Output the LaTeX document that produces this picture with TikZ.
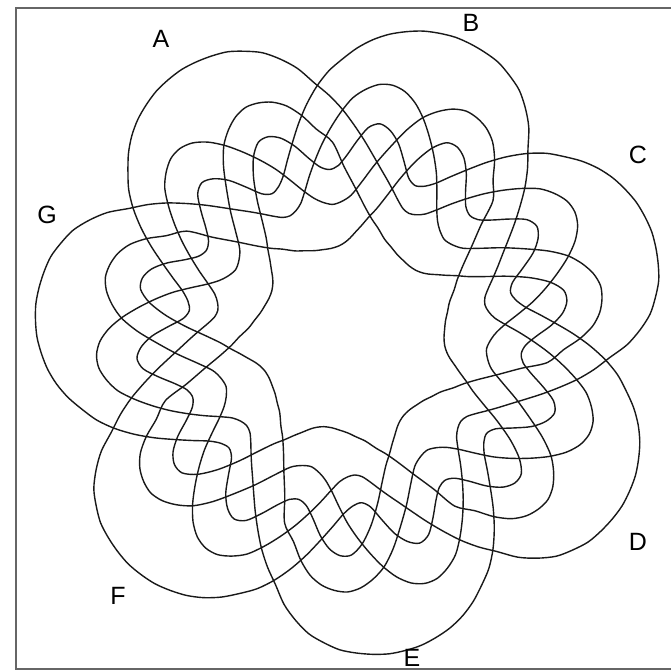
\documentclass[tikz,border=0pt]{standalone}
\usepackage{fontspec}
\setmainfont{Liberation Sans}
\begin{document}
\begin{tikzpicture}[x=1pt,y=1pt]
\useasboundingbox (0,0) rectangle (670,-671);
\tikzset{
  setcurve/.style={line width=1.4pt, black!90, line join=round},
  setlabel/.style={font=\fontsize{25}{25}\selectfont, text=black, inner sep=0pt},
  frameline/.style={line width=1.8pt, black!60}
}
\draw[frameline] (674,-8) -- (16,-8) -- (16,-669) -- (674,-669);
\foreach \p in {70,121.4286,172.8571,224.2857,275.7143,327.1429,378.5714} {
  \begin{scope}[shift={(352,-338)}, rotate=\p]
    \draw[setcurve] plot[smooth cycle, tension=0.5] coordinates {
(-180:197) (-176:212) (-173:228) (-170:241) (-167:249) (-164:253) (-161:254) (-158:250) (-155:242) (-152:231) (-149:215) (-146:197) (-142:176) (-138:157) (-134:143) (-130:137) (-126:135) (-122:139) (-119:145) (-116:155) (-113:169) (-110:185) (-107:200) (-104:215) (-101:230) (-98:243) (-95:252) (-92:256) (-89:255) (-86:249) (-83:240) (-80:226) (-77:211) (-74:196) (-71:181) (-68:167) (-65:154) (-62:144) (-59:139) (-56:137) (-53:139) (-50:145) (-47:153) (-44:162) (-41:172) (-38:184) (-35:198) (-32:213) (-29:229) (-26:244) (-23:258) (-20:275) (-17:288) (-14:299) (-11:306) (-8:312) (-5:315) (-2:317) (1:318) (4:317) (7:315) (10:311) (13:306) (16:299) (19:290) (22:279) (25:268) (28:254) (31:238) (34:221) (37:204) (40:189) (43:176) (46:168) (49:165) (52:170) (55:184) (58:200) (61:211) (64:216) (67:211) (70:197) (73:183) (76:173) (79:170) (82:174) (85:185) (88:200) (91:212) (94:218) (97:217) (100:206) (103:188) (106:167) (109:147) (112:132) (115:122) (118:113) (121:106) (124:100) (127:96) (131:93) (136:92) (141:93) (146:95) (151:99) (156:104) (161:113) (165:121) (169:133) (173:150) (177:172)
    };
  \end{scope}
}
\node[setlabel] (A) at (161,-39) {A};
\node[setlabel] (B) at (471,-23) {B};
\node[setlabel] (C) at (638,-155) {C};
\node[setlabel] (D) at (638,-542) {D};
\node[setlabel] (E) at (412,-658) {E};
\node[setlabel] (F) at (118,-596) {F};
\node[setlabel] (G) at (47,-215) {G};
\end{tikzpicture}
\end{document}
